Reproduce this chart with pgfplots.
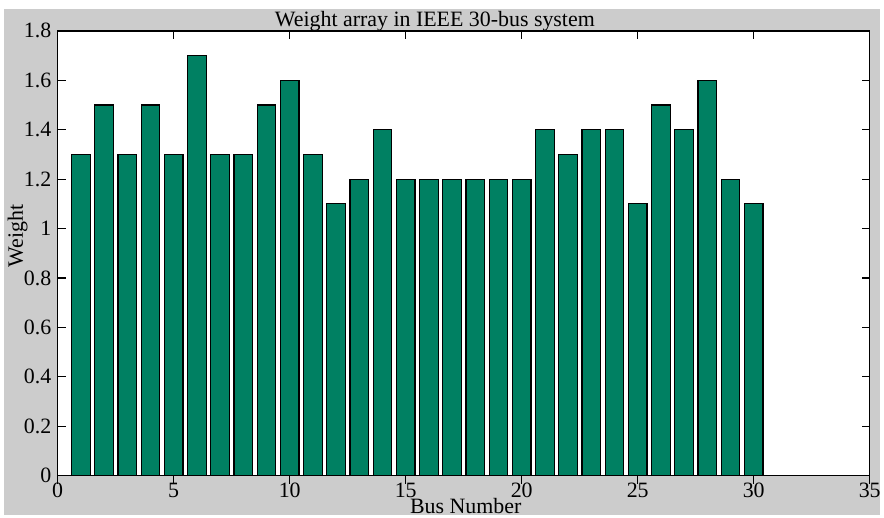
\documentclass[border=0pt]{standalone}
\usepackage{fontspec}
\setmainfont{Liberation Serif}
\usepackage{pgfplots}
\pgfplotsset{compat=1.18}
\definecolor{bargreen}{RGB}{0,128,98}
\definecolor{figgray}{RGB}{204,204,204}
\pgfplotstableread{
bus weight
1 1.3
2 1.5
3 1.3
4 1.5
5 1.3
6 1.7
7 1.3
8 1.3
9 1.5
10 1.6
11 1.3
12 1.1
13 1.2
14 1.4
15 1.2
16 1.2
17 1.2
18 1.2
19 1.2
20 1.2
21 1.4
22 1.3
23 1.4
24 1.4
25 1.1
26 1.5
27 1.4
28 1.6
29 1.2
30 1.1
}\weights
\pgfplotsset{commonaxis/.style={
  at={(58pt,40pt)}, anchor=south west,
  scale only axis, width=816pt, height=447pt,
  xmin=0, xmax=35, ymin=0, ymax=1.8,
  axis line style={line width=1.5pt},
  tick style={line width=1.2pt, black},
  major tick length=8pt,
  xtick align=inside, ytick align=inside,
  /pgf/number format/assume math mode=true,
  tick label style={font=\fontsize{22}{26}\selectfont},
}}
\begin{document}
\begin{tikzpicture}
\fill[white] (0pt,0pt) rectangle (884pt,518pt);
\fill[figgray] (4pt,0pt) rectangle (884pt,509pt);
\begin{axis}[
  commonaxis,
  xtick={0,5,10,15,20,25,30,35},
  ytick={0,0.2,0.4,0.6,0.8,1,1.2,1.4,1.6,1.8},
  yticklabels={0,0.2,0.4,0.6,0.8,1,1.2,1.4,1.6,1.8},
  axis background/.style={fill=white},
  xtick pos=left, ytick pos=both,
  yticklabel style={xshift=-3pt},
  xticklabel style={yshift=4.5pt},
  ybar, bar width=0.8,
]
\addplot[fill=bargreen, draw=black, line width=1.2pt] table[x=bus, y=weight] {\weights};
\end{axis}
\begin{axis}[
  commonaxis,
  xtick={0,5,10,15,20,25,30,35},
  xticklabels={},
  ytick=\empty,
  xtick pos=right,
]
\end{axis}
\node[anchor=base, font=\fontsize{22}{26}\selectfont] at (437pt,491pt) {Weight array in IEEE 30-bus system};
\node[anchor=base, font=\fontsize{22}{26}\selectfont] at (468pt,2pt) {Bus Number};
\node[rotate=90, anchor=base, font=\fontsize{22}{26}\selectfont] at (23pt,281pt) {Weight};
\end{tikzpicture}
\end{document}
